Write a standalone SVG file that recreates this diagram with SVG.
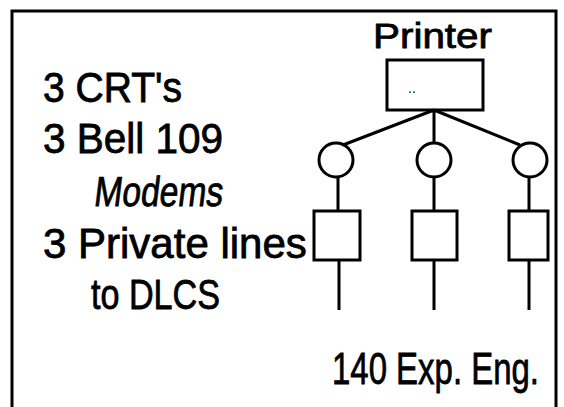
<svg xmlns="http://www.w3.org/2000/svg" width="564" height="407" viewBox="0 0 564 407">
<style>
.t{font-family:"Liberation Sans","DejaVu Sans",sans-serif;font-size:42px;fill:#000;stroke:#000;stroke-width:0.8}
.s{fill:none;stroke:#000;stroke-width:3}
.c{fill:none;stroke:#000;stroke-width:3}
</style>
<rect width="564" height="407" fill="#fff"/>
<g id="frame"><path class="s" d="M12 412 V11 H556 V412"/></g>
<g id="labels">
<text class="t" transform="translate(43,102) scale(0.93,1)">3 CRT's</text>
<text class="t" transform="translate(43,153) scale(0.964,1)">3 Bell 109</text>
<text class="t" transform="translate(93,206) skewX(-7) scale(0.8,1)">Modems</text>
<text class="t" transform="translate(43,258) scale(1,1)">3 Private lines</text>
<text class="t" transform="translate(91,309) scale(0.813,1)">to DLCS</text>
<text class="t" transform="translate(332,384) scale(0.749,1)" style="font-size:44px">140 Exp. Eng.</text>
</g>
<g id="printer">
<text class="t" transform="translate(373,48) scale(1.155,1)" style="font-size:35px">Printer</text>
<rect class="s" x="387" y="60" width="96" height="50"/>
<text x="408" y="93" font-family="Liberation Sans, sans-serif" font-size="14">..</text>
</g>
<g id="connectors">
<path class="c" d="M434 110 L343 145 M434 110 L434 143 M434 110 L520 145"/>
<path class="c" d="M338 177 V211 M434 177 V211 M529 177 V211"/>
<path class="c" d="M339 260 V310 M434 260 V310 M529 260 V310"/>
</g>
<g id="modem1"><circle class="s" cx="336" cy="160" r="17"/></g>
<g id="modem2"><circle class="s" cx="434" cy="160" r="17"/></g>
<g id="modem3"><circle class="s" cx="530" cy="160" r="17"/></g>
<g id="crt1"><rect class="s" x="314" y="211" width="46" height="49"/></g>
<g id="crt2"><rect class="s" x="412" y="211" width="45" height="49"/></g>
<g id="crt3"><rect class="s" x="509" y="211" width="39" height="49"/></g>
</svg>
